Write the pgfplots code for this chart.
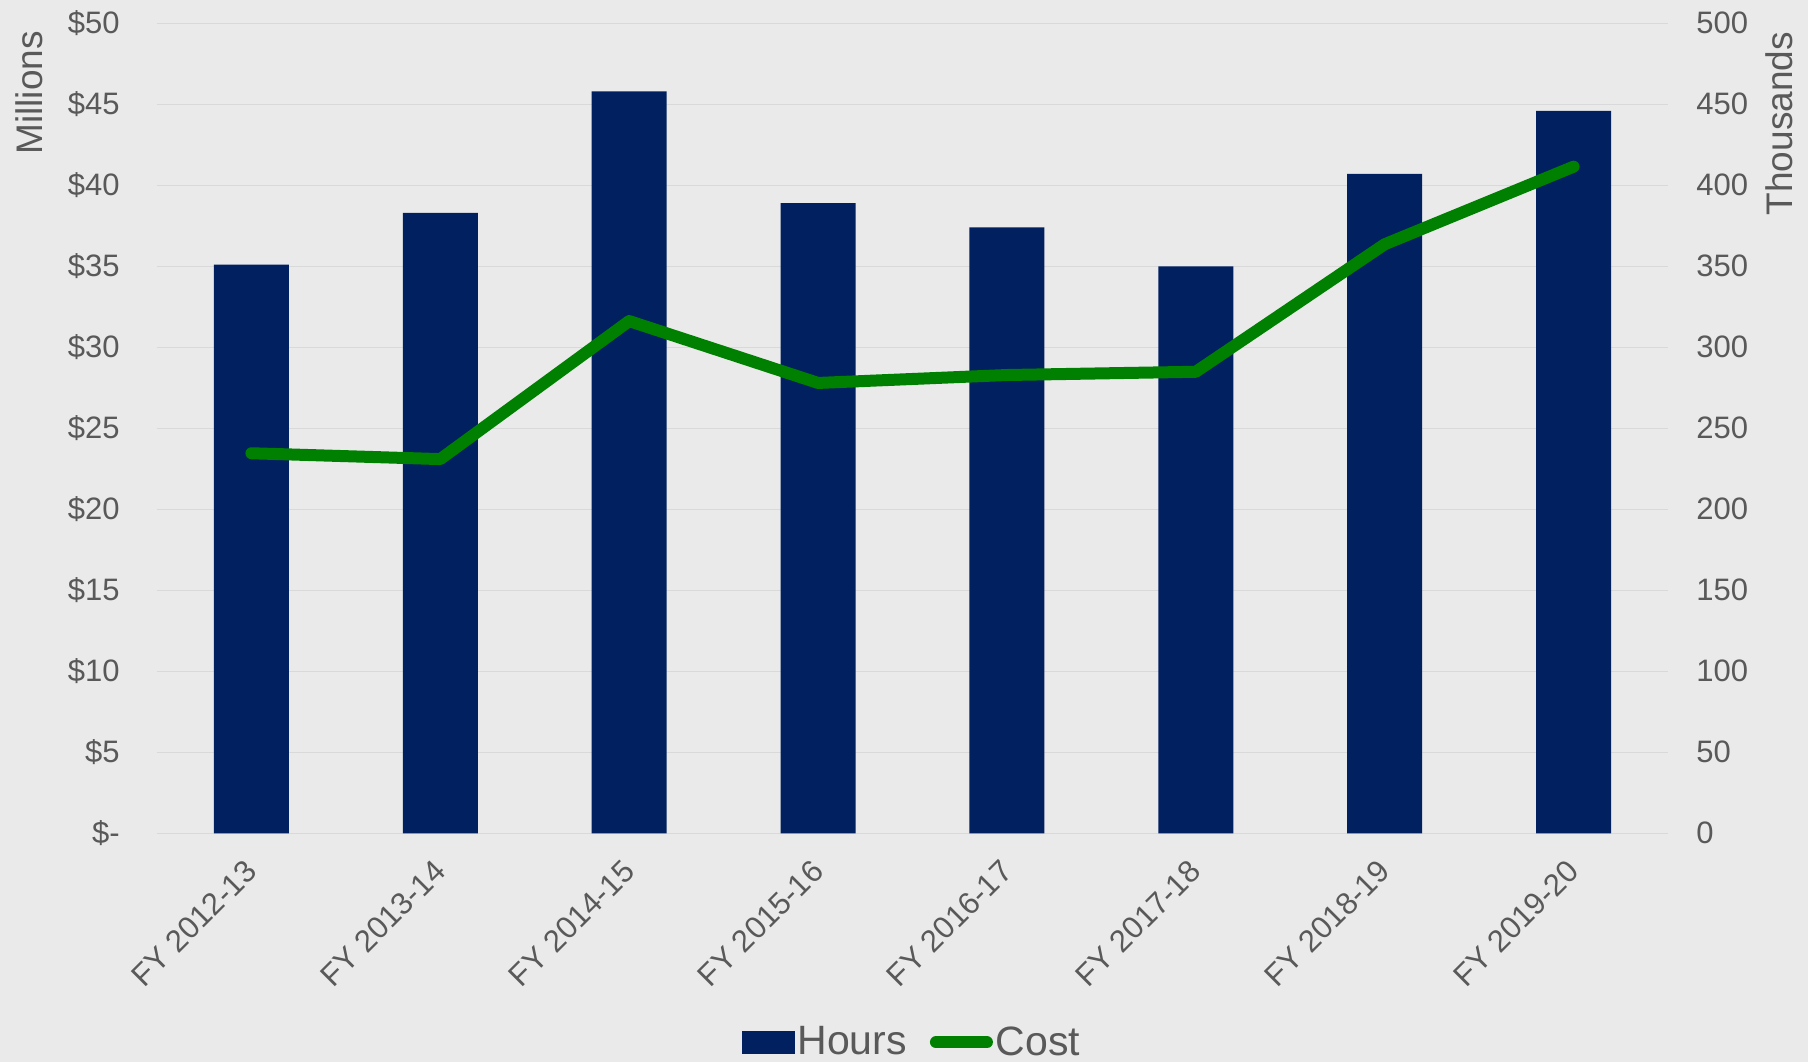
\documentclass[border=0pt]{standalone}
\usepackage{pgfplots}
\pgfplotsset{compat=1.18}
\usepackage{fontspec}
\setmainfont{Liberation Sans}
\definecolor{bg}{HTML}{EAEAEA}
\definecolor{gridc}{HTML}{D9D9D9}
\definecolor{navy}{HTML}{002060}
\definecolor{cgreen}{HTML}{008000}
\definecolor{txt}{HTML}{595959}
\begin{document}
\begin{tikzpicture}
\useasboundingbox (-78.5pt,-114.35pt) rectangle (825.5pt,416.65pt);
\fill[bg] (-78.5pt,-114.35pt) rectangle (825.5pt,416.65pt);
\pgfplotsset{
  common/.style={
    at={(0,0)}, anchor=south west,
    scale only axis, width=755.5pt, height=405pt,
    xmin=-0.5, xmax=7.5,
    axis line style={draw=none},
    major tick style={draw=none}, minor tick style={draw=none},
    tick label style={font=\fontsize{15.5}{18}\selectfont, text=txt},
  }
}
\begin{axis}[common,
  ymin=0, ymax=500,
  ybar, bar width=37.5pt,
  ymajorgrids, grid style={gridc, line width=0.75pt},
  ytick={0,50,100,150,200,250,300,350,400,450,500},
  yticklabels={0,50,100,150,200,250,300,350,400,450,500},
  yticklabel pos=right,
  yticklabel style={anchor=west, inner sep=0pt, xshift=14pt},
  xtick={0,1,2,3,4,5,6,7},
  xticklabels={FY 2012-13,FY 2013-14,FY 2014-15,FY 2015-16,FY 2016-17,FY 2017-18,FY 2018-19,FY 2019-20},
  xticklabel style={xshift=-4pt, yshift=-8pt, rotate=45, anchor=north east, inner sep=0pt},
]
\addplot[fill=navy, draw=none] coordinates {(0,351) (1,383) (2,458) (3,389) (4,374) (5,350) (6,407) (7,446)};
\end{axis}
\begin{axis}[common, clip=false,
  ymin=0, ymax=50,
  ytick={0,5,10,15,20,25,30,35,40,45,50},
  yticklabels={\$-,\$5,\$10,\$15,\$20,\$25,\$30,\$35,\$40,\$45,\$50},
  yticklabel pos=left,
  yticklabel style={anchor=east, inner sep=0pt, xshift=-18.5pt},
  xtick=\empty,
  legend columns=2,
  legend style={at={(0.5,-0.258)}, anchor=center, draw=none, fill=none,
    font=\fontsize{20.5}{24}\selectfont, text=txt, inner sep=0pt,
    nodes={inner sep=1.5pt},
    /tikz/every even column/.append style={column sep=10pt}},
]
\addlegendimage{legend image code/.code={\fill[navy] (0pt,-5.5pt) rectangle (26pt,5.5pt);}}
\addlegendentry{Hours}
\addplot[cgreen, line width=6pt, line cap=round, line join=round,
  legend image code/.code={\draw[cgreen, line width=6pt, line cap=round] (3pt,0pt) -- (28.5pt,0pt);}]
  coordinates {(0,23.46) (1,23.1) (2,31.62) (3,27.8) (4,28.29) (5,28.49) (6,36.36) (7,41.15)};
\addlegendentry{Cost}
\node[rotate=90, font=\fontsize{18.5}{22}\selectfont, text=txt] at ([xshift=-64pt]rel axis cs:0,0.914) {Millions};
\node[rotate=90, font=\fontsize{18.5}{22}\selectfont, text=txt] at ([xshift=55.5pt]rel axis cs:1,0.876) {Thousands};
\end{axis}
\end{tikzpicture}
\end{document}
